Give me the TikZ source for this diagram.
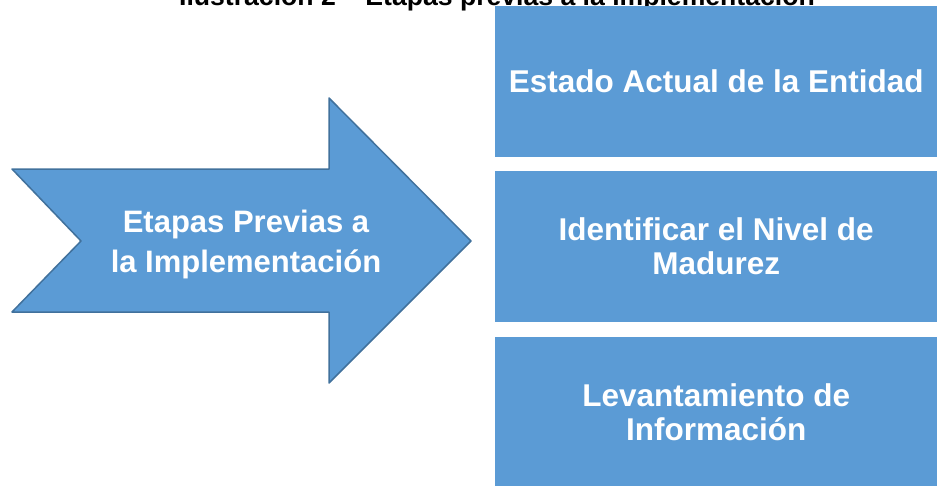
\documentclass[tikz,border=0pt]{standalone}
\usepackage{fontspec}
\setmainfont{Liberation Sans}
\definecolor{azul}{HTML}{5B9BD5}
\definecolor{azulborde}{HTML}{41719C}
\tikzset{
  caja/.style={fill=azul, anchor=north west, minimum width=442pt, minimum height=151pt, inner sep=0pt,
    text=white, align=center, font=\bfseries\fontsize{31.5}{34}\selectfont}
}
\begin{document}
\begin{tikzpicture}[x=1pt, y=-1pt, line join=round]
  \useasboundingbox (0,0) rectangle (937,485);
  \clip (0,0) rectangle (937,485);
  \node[anchor=base, inner sep=0pt, font=\bfseries\fontsize{26.6}{30}\selectfont] (titulo) at (497,5.5) {Ilustración 2 – Etapas previas a la implementación};
  \draw[fill=azul, draw=azulborde, line width=1.5pt] (12,169) -- (329,169) -- (329,98) -- (471,241) -- (329,383) -- (329,312) -- (12,312) -- (81,241) -- cycle;
  \node[text=white, align=center, font=\bfseries\fontsize{31}{40}\selectfont] (etapas) at (246,244) {Etapas Previas a\\la Implementación};
  \node[caja] (estado) at (495,6) {Estado Actual de la Entidad};
  \node[caja] (nivel) at (495,171) {Identificar el Nivel de\\Madurez};
  \node[caja] (levantamiento) at (495,337) {Levantamiento de\\Información};
\end{tikzpicture}
\end{document}
